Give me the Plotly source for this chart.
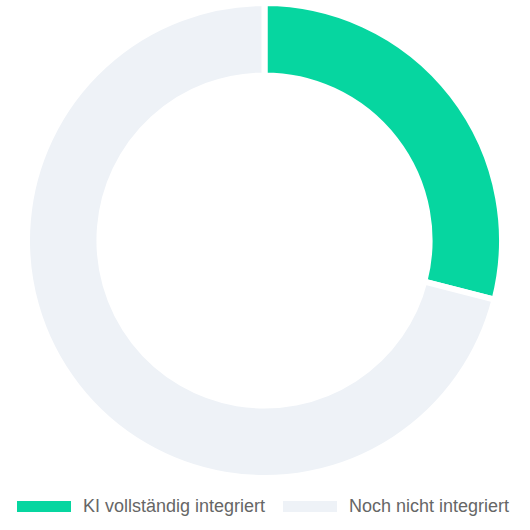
import plotly.graph_objects as go

# Anteil der Unternehmen (in %)
labels = ['KI vollständig integriert', 'Noch nicht integriert']
values = [29, 71]
colours = ['#06D6A0', '#EEF2F7']

W, H = 530, 530


def px_x(v):
    return v / W


def px_y(v):
    return 1 - v / H


data = go.Pie(labels=labels, values=values, hole=0.695, sort=False, direction='clockwise',
              rotation=0, textinfo='none', hoverinfo='label+percent', showlegend=False,
              marker={'colors': colours, 'line': dict(color='#FFFFFF', width=6)},
              domain=dict(x=[px_x(27), px_x(502)], y=[px_y(478), px_y(3)]))

layout = go.Layout(autosize=False, width=W, height=H, margin=dict(l=0, r=0, t=0, b=0),
                   paper_bgcolor='#FFFFFF', plot_bgcolor='rgba(0,0,0,0)')
fig = go.Figure(data=[data], layout=layout)

# Legende im Chart.js-Stil: breite Farbbalken + Text
legend_x = [17, 283]
shapes = []
annotations = []
for i, lab in enumerate(labels):
    x0 = legend_x[i]
    shapes.append(dict(type='rect', xref='paper', yref='paper',
                       x0=px_x(x0), x1=px_x(x0 + 54), y0=px_y(512), y1=px_y(501),
                       fillcolor=colours[i], line=dict(width=0)))
    annotations.append(dict(text=lab, xref='paper', yref='paper', x=px_x(x0 + 64), y=px_y(506),
                            xanchor='left', yanchor='middle', showarrow=False,
                            font=dict(family='Liberation Sans, Arial', size=18, color='#666666')))
fig.update_layout(shapes=shapes, annotations=annotations)

# Seitenrand entfernen, damit der Chart bündig im Fenster sitzt
fig.write_html("out.html", config={'displayModeBar': False},
               post_script="document.body.style.margin='0';")
